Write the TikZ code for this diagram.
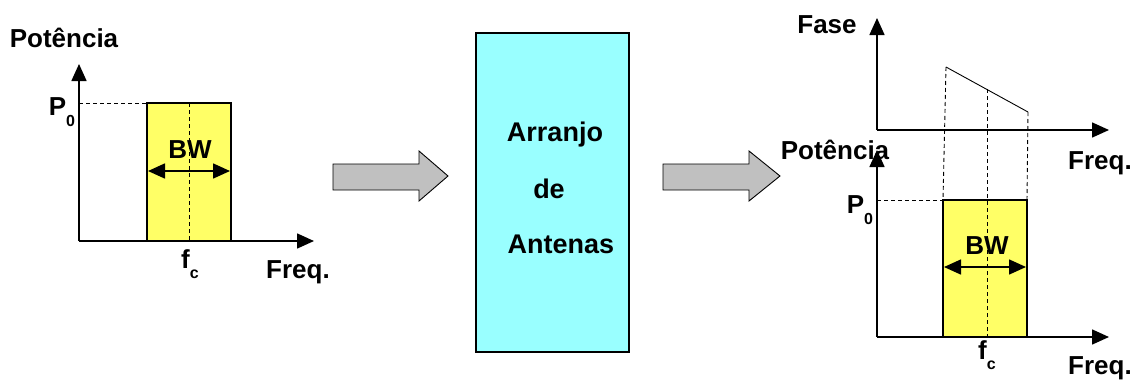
\documentclass[tikz,border=0pt]{standalone}
\usepackage{fontspec}
\setmainfont{Liberation Sans}
\usetikzlibrary{arrows.meta}
\definecolor{bandyellow}{RGB}{255,255,102}
\definecolor{boxcyan}{RGB}{153,255,255}
\definecolor{arrowgray}{RGB}{192,192,192}
\newcommand{\sbs}[1]{\raisebox{-0.4em}{\fontsize{16}{16}\selectfont\bfseries #1}}
\tikzset{
  lbl/.style={font=\fontsize{26}{26}\selectfont\bfseries, inner sep=0pt},
  mid/.style={font=\fontsize{27}{27}\selectfont\bfseries, inner sep=0pt},
  axis/.style={line width=1.6pt, -{Triangle[length=17pt,width=15pt]}},
  bandfill/.style={fill=bandyellow},
  bandedge/.style={line width=1.6pt},
  guide/.style={line width=0.9pt, dash pattern=on 4pt off 3pt},
  bwarrow/.style={line width=1.6pt, {Triangle[length=17pt,width=15pt]}-{Triangle[length=17pt,width=15pt]}},
  blockarrow/.style={draw=black, line width=0.9pt, fill=arrowgray},
}
\begin{document}
\begin{tikzpicture}[x=1pt,y=-1pt]
\useasboundingbox (0,0) rectangle (1133,381);
% ---------- left chart ----------
\coordinate (LO) at (79,241);
\coordinate (LY) at (79,64);
\coordinate (LX) at (314,241);
\fill[bandfill] (147,103) rectangle (231,241);
\draw[bandedge] (147,241) -- (147,103) -- (231,103) -- (231,241);
\coordinate (LP) at (147,103);
\coordinate (LPa) at (79,103);
\coordinate (LCt) at (189,103);
\coordinate (LCb) at (189,241);
\draw[guide] (LPa) -- (LP);
\draw[guide] (LCt) -- (LCb);
\draw[axis] (LO) -- (LY);
\draw[axis] (LO) -- (LX);
\coordinate (LBl) at (148,171);
\coordinate (LBr) at (230,171);
\draw[bwarrow] (LBl) -- (LBr);
\node[lbl] (Lpot) at (64,38) {Potência};
\node[lbl] (LP0) at (62,112) {P\sbs{0}};
\node[lbl] (Lbw) at (190,150) {BW};
\node[lbl] (Lfc) at (190,264) {f\sbs{c}};
\node[lbl] (Lfreq) at (298,272) {Freq.};
% ---------- block arrows ----------
\draw[blockarrow] (333,164) -- (419,164) -- (419,151) -- (448,176) -- (419,201) -- (419,190) -- (333,190) -- cycle;
\draw[blockarrow] (663,164) -- (749,164) -- (749,151) -- (780,176) -- (749,201) -- (749,190) -- (663,190) -- cycle;
% ---------- middle box ----------
\node[draw=black, line width=1.6pt, fill=boxcyan, minimum width=153pt, minimum height=319pt, inner sep=0pt] (box) at (552.5,192.5) {};
\node[mid] (t1) at (555,135) {Arranjo};
\node[mid] (t2) at (549,189) {de};
\node[mid] (t3) at (561,244) {Antenas};
% ---------- right: phase chart ----------
\coordinate (PO) at (877,130);
\coordinate (PY) at (877,18);
\coordinate (PX) at (1109,130);
\coordinate (Ph1) at (946,67);
\coordinate (Ph2) at (987,89);
\coordinate (Ph3) at (1028,112);
\draw[line width=0.9pt] (Ph1) -- (Ph3);
% ---------- right: power chart ----------
\fill[bandfill] (943,200) rectangle (1027,337);
\draw[bandedge] (943,337) -- (943,200) -- (1027,200) -- (1027,337);
\coordinate (RO) at (877,337);
\coordinate (RY) at (877,150);
\coordinate (RX) at (1109,337);
\coordinate (RP) at (943,200);
\coordinate (RPa) at (877,200);
\coordinate (RR) at (1027,200);
\coordinate (RCb) at (987,337);
\draw[guide] (RPa) -- (RP);
\draw[guide] (Ph1) -- (RP);
\draw[guide] (Ph3) -- (RR);
\draw[guide] (Ph2) -- (RCb);
\draw[axis] (PO) -- (PY);
\draw[axis] (PO) -- (PX);
\draw[axis] (RO) -- (RY);
\draw[axis] (RO) -- (RX);
\coordinate (RBl) at (944,267);
\coordinate (RBr) at (1026,267);
\draw[bwarrow] (RBl) -- (RBr);
\node[lbl] (Fase) at (827,25) {Fase};
\node[lbl] (Rfreq1) at (1100,163) {Freq.};
\node[lbl] (Rpot) at (835,150) {Potência};
\node[lbl] (RP0) at (860,210) {P\sbs{0}};
\node[lbl] (Rbw) at (987,246) {BW};
\node[lbl] (Rfc) at (987,355) {f\sbs{c}};
\node[lbl] (Rfreq2) at (1100,368) {Freq.};
\end{tikzpicture}
\end{document}
